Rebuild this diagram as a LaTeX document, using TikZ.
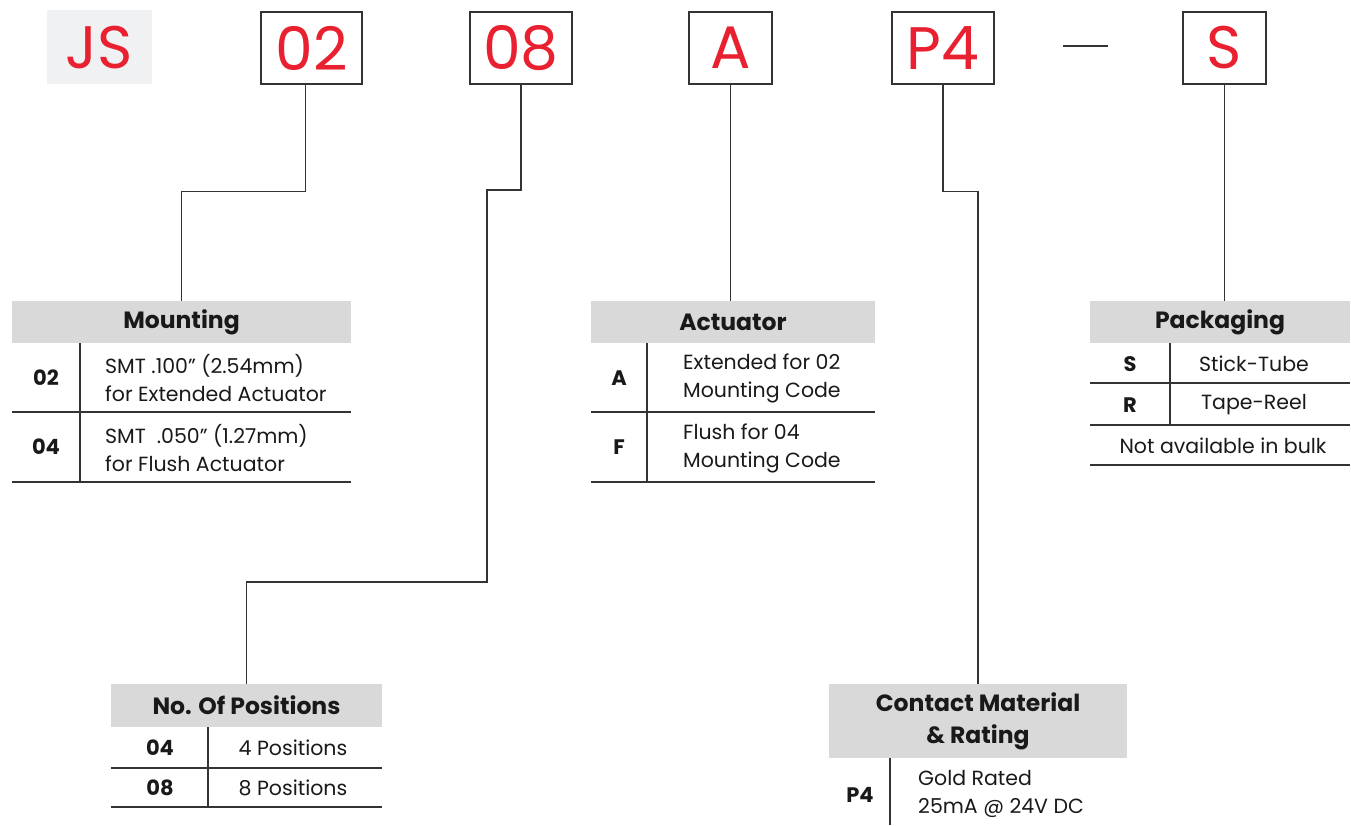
\documentclass[tikz,border=0pt]{standalone}
\usepackage{fontspec}
\setmainfont{Poppins}
\usetikzlibrary{calc}
\definecolor{jred}{HTML}{E8202F}
\definecolor{hgray}{HTML}{D9D9DA}
\definecolor{jsbg}{HTML}{F0F1F3}
\definecolor{lcol}{HTML}{333333}
\tikzset{
  codebox/.style={draw=lcol,line width=2.6pt,minimum height=72pt,inner sep=0pt,text=jred,font=\fontsize{60}{62}\selectfont},
  hdr/.style={fill=hgray,inner sep=0pt,minimum height=42pt,font=\bfseries\fontsize{23.5}{30}\selectfont,align=center,text=black!90},
  conn/.style={draw=lcol,line width=1.1pt},
  rule/.style={draw=lcol,line width=1.3pt},
  cd/.style={font=\bfseries\fontsize{21}{24}\selectfont,inner sep=0pt,text=black!90},
  desc/.style={font=\fontsize{20.5}{28}\selectfont,inner sep=0pt,align=left,text=black!90},
}
\begin{document}
\begin{tikzpicture}[x=1pt,y=-1pt]
\useasboundingbox (0,0) rectangle (1351,825);
% top code row
\fill[jsbg] (47,10) rectangle (152,84);
\node[text=jred,font=\fontsize{60}{62}\selectfont,inner sep=0pt] (js) at (99.5,48) {JS};
\node[codebox,minimum width=101pt] (b02) at (311.5,48) {02};
\node[codebox,minimum width=102pt] (b08) at (521,48) {08};
\node[codebox,minimum width=83pt] (bA) at (730.5,48) {A};
\node[codebox,minimum width=102pt] (bP) at (943,48) {P4};
\node[codebox,minimum width=83pt] (bS) at (1224.5,48) {S};
\draw[lcol,line width=2.6pt] (1063,46) -- (1108,46);
% headers
\node[hdr,minimum width=339pt] (hMount) at (181.5,322) {Mounting};
\node[hdr,minimum width=284pt] (hAct) at (733,322) {Actuator};
\node[hdr,minimum width=260pt] (hPack) at (1220,322) {Packaging};
\node[hdr,minimum width=271pt,minimum height=43pt] (hPos) at (246.5,705.5) {No. Of Positions};
\node[hdr,minimum width=298pt,minimum height=74pt] (hCon) at (978,721) {Contact Material\\[2pt]\& Rating};
% connectors
\coordinate (k1) at (487,190);
\coordinate (k2) at (487,582);
\draw[conn] ([xshift=-6pt]b02.south) -- ++(0,106) -| (hMount.north);
\draw[conn] (b08.south) |- (k1) -- (k2) -| (hPos.north);
\draw[conn] (bA.south) -- (bA.south |- hAct.north);
\draw[conn] (bP.south) -- ++(0,106) -| (hCon.north);
\draw[conn] (bS.south) -- (bS.south |- hPack.north);
% Mounting table
\draw[rule] (12,412) -- (351,412);
\draw[rule] (12,482) -- (351,482);
\draw[rule] (80,343) -- (80,482);
\node[cd] (m1c) at (46,378) {02};
\node[cd] (m2c) at (46,447) {04};
\node[desc,anchor=west] (m1d) at (105,378) {SMT .100” (2.54mm)\\for Extended Actuator};
\node[desc,anchor=west] (m2d) at (105,448) {SMT\ \ .050” (1.27mm)\\for Flush Actuator};
% Actuator table
\draw[rule] (591,412) -- (875,412);
\draw[rule] (591,482) -- (875,482);
\draw[rule] (647,343) -- (647,482);
\node[cd] (a1c) at (619,378) {A};
\node[cd] (a2c) at (619,447) {F};
\node[desc,anchor=west] (a1d) at (683,378) {Extended for 02\\Mounting Code};
\node[desc,anchor=west] (a2d) at (683,448) {Flush for 04\\Mounting Code};
% Packaging table
\draw[rule] (1090,383) -- (1350,383);
\draw[rule] (1090,425) -- (1350,425);
\draw[rule] (1090,465) -- (1350,465);
\draw[rule] (1170,343) -- (1170,425);
\node[cd] (p1c) at (1130,364) {S};
\node[cd] (p2c) at (1130,405) {R};
\node[desc] (p1d) at (1254,364) {Stick-Tube};
\node[desc] (p2d) at (1254,405) {Tape-Reel};
\node[desc] (p3d) at (1223,446) {Not available in bulk};
% Positions table
\draw[rule] (111,768) -- (382,768);
\draw[rule] (111,807) -- (382,807);
\draw[rule] (208,727) -- (208,807);
\node[cd] (n1c) at (160,748) {04};
\node[cd] (n2c) at (160,788) {08};
\node[desc] (n1d) at (293,748) {4 Positions};
\node[desc] (n2d) at (293,788) {8 Positions};
% Contact table
\draw[rule] (890,758) -- (890,825);
\node[cd] (c1c) at (860,795) {P4};
\node[desc,anchor=west] (c1d) at (918,794) {Gold Rated\\25mA @ 24V DC};
\end{tikzpicture}
\end{document}
